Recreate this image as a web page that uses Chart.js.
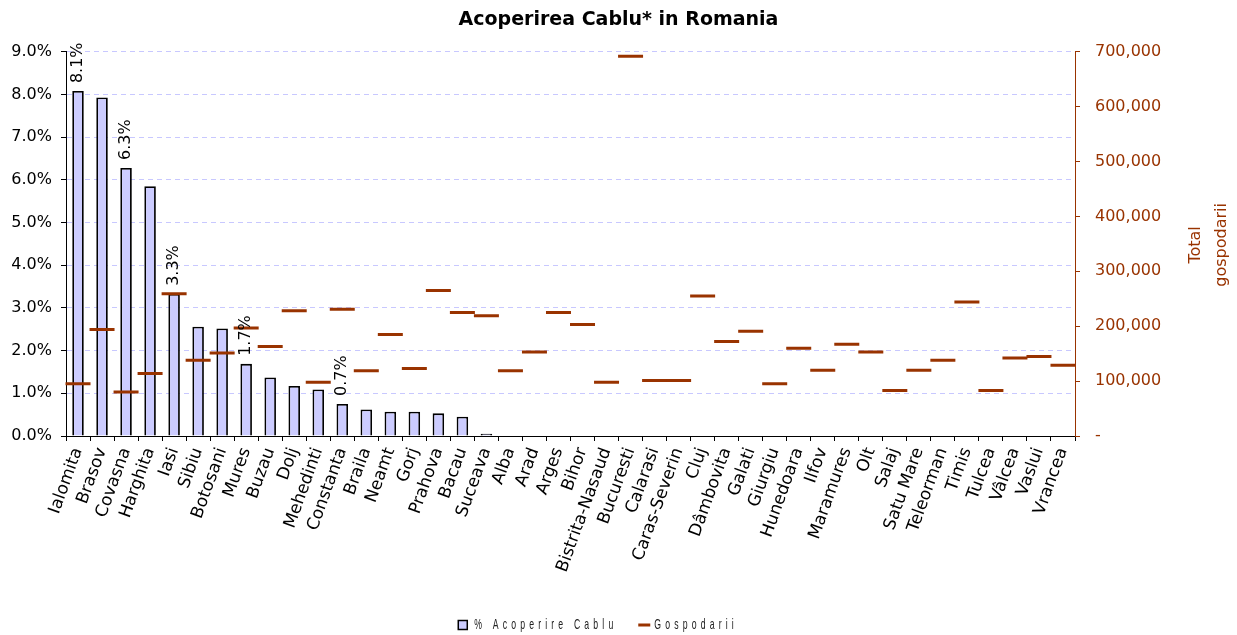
<!DOCTYPE html>
<html><head><meta charset="utf-8">
<script src="https://cdn.jsdelivr.net/npm/chart.js@4/dist/chart.umd.min.js"></script>
<style>html,body{margin:0;padding:0;background:#fff;}canvas{display:block;}</style>
</head><body>
<canvas id="c" width="1237" height="635"></canvas>
<script>
// ---- DATA ----
const categories = ['Ialomita','Brasov','Covasna','Harghita','Iasi','Sibiu','Botosani','Mures','Buzau','Dolj','Mehedinti','Constanta','Braila','Neamt','Gorj','Prahova','Bacau','Suceava','Alba','Arad','Arges','Bihor','Bistrita-Nasaud','Bucuresti','Calarasi','Caras-Severin','Cluj','Dâmbovita','Galati','Giurgiu','Hunedoara','Ilfov','Maramures','Olt','Salaj','Satu Mare','Teleorman','Timis','Tulcea','Vâlcea','Vaslui','Vrancea'];
const coveragePct = [8.08,7.93,6.28,5.85,3.33,2.56,2.52,1.69,1.37,1.17,1.09,0.75,0.62,0.57,0.57,0.53,0.45,0.05,0,0,0,0,0,0,0,0,0,0,0,0,0,0,0,0,0,0,0,0,0,0,0,0];
const coverageLabels = ['8.1%','','6.3%','','3.3%','','','1.7%','','','','0.7%','','','','','','','','','','','','','','','','','','','','','','','','','','','','','',''];
const households = [95000,194000,80000,114000,259000,138000,151000,197000,163000,228000,98000,231000,119000,185000,123000,265000,225000,219000,119000,153000,225000,203000,98000,692000,101000,101000,255000,172000,191000,95000,160000,120000,167000,153000,83000,120000,138000,244000,83000,142000,145000,129000];
const seriesNames = ['% Acoperire Cablu','Gospodarii'];
const pctAxisRange = [0, 9, 1];
const hhAxisRange = [0, 700000, 100000];
const chartTitle = 'Acoperirea Cablu* in Romania';
const rightAxisTitle = ['Total','gospodarii'];

// ---- STYLE ----
const FONT = "'DejaVu Sans', 'Liberation Sans', sans-serif";
const BROWN = '#993300';
const BARFILL = '#ccccff';

const barLabelPlugin = {
  id: 'barLabels',
  afterDatasetsDraw(chart) {
    const meta = chart.getDatasetMeta(1);
    const ctx = chart.ctx;
    ctx.save();
    ctx.font = '16px ' + FONT;
    ctx.fillStyle = '#000';
    ctx.textAlign = 'left';
    ctx.textBaseline = 'middle';
    meta.data.forEach((el, i) => {
      const t = coverageLabels[i];
      if (!t) return;
      ctx.save();
      ctx.translate(el.x, el.y - 8);
      ctx.rotate(-Math.PI / 2);
      ctx.fillText(t, 0, 0);
      ctx.restore();
    });
    ctx.restore();
  }
};

const rightTitlePlugin = {
  id: 'rightTitle',
  afterDraw(chart) {
    const ctx = chart.ctx;
    const s = chart.scales.y2;
    const cy = (chart.chartArea.top + chart.chartArea.bottom) / 2;
    ctx.save();
    ctx.font = '16px ' + FONT;
    ctx.fillStyle = BROWN;
    ctx.textAlign = 'center';
    ctx.textBaseline = 'middle';
    const xs = [s.right - 41, s.right - 15];
    rightAxisTitle.forEach((t, i) => {
      ctx.save();
      ctx.translate(xs[i], cy + 1);
      ctx.rotate(-Math.PI / 2);
      ctx.fillText(t, 0, 0);
      ctx.restore();
    });
    ctx.restore();
  }
};

function rawWidth(ctx, text, sx) {
  let w = 0;
  for (const ch of text) w += ctx.measureText(ch).width * sx;
  return w;
}
function drawSpaced(ctx, text, x, y, sp, sx) {
  for (const ch of text) {
    const cw = ctx.measureText(ch).width * sx;
    ctx.save();
    ctx.translate(x, y);
    ctx.scale(sx, 1);
    ctx.fillText(ch, 0, 0);
    ctx.restore();
    x += cw + sp;
  }
}

const legendPlugin = {
  id: 'customLegend',
  afterDraw(chart) {
    const ctx = chart.ctx;
    ctx.save();
    ctx.font = "15px 'Liberation Sans', 'DejaVu Sans', sans-serif";
    ctx.textBaseline = 'middle';
    ctx.textAlign = 'left';
    const sx = 0.58;
    const n1 = [...seriesNames[0]].length, n2 = [...seriesNames[1]].length;
    const sp = (139 - rawWidth(ctx, seriesNames[0], sx)) / (n1 - 1);
    const w1 = rawWidth(ctx, seriesNames[0], sx) + sp * (n1 - 1);
    const w2 = rawWidth(ctx, seriesNames[1], sx) + sp * (n2 - 1);
    const total = 10 + 6 + w1 + 25 + 12 + 4 + w2;
    let x = 596 - total / 2;
    const y = 625;
    ctx.fillStyle = BARFILL; ctx.strokeStyle = '#000'; ctx.lineWidth = 1.5;
    ctx.fillRect(x, y - 4.5, 9, 9); ctx.strokeRect(x, y - 4.5, 9, 9);
    x += 16;
    ctx.fillStyle = '#222';
    drawSpaced(ctx, seriesNames[0], x, y, sp, sx);
    x += w1 + 25;
    ctx.strokeStyle = BROWN; ctx.lineWidth = 3;
    ctx.beginPath(); ctx.moveTo(x, y); ctx.lineTo(x + 12, y); ctx.stroke();
    x += 16;
    ctx.fillStyle = '#222';
    drawSpaced(ctx, seriesNames[1], x, y, sp, sx);
    ctx.restore();
  }
};

new Chart(document.getElementById('c'), {
  type: 'bar',
  data: {
    labels: categories,
    datasets: [
      {
        type: 'line',
        label: seriesNames[1],
        data: households,
        yAxisID: 'y2',
        order: 0,
        showLine: false,
        pointStyle: 'line',
        pointRadius: 12.5,
        pointHoverRadius: 12.5,
        pointBorderWidth: 3,
        pointBorderColor: BROWN,
        pointBackgroundColor: BROWN,
        borderColor: BROWN,
        backgroundColor: BROWN
      },
      {
        type: 'bar',
        label: seriesNames[0],
        data: coveragePct,
        yAxisID: 'y',
        order: 1,
        backgroundColor: BARFILL,
        borderColor: '#000',
        borderWidth: 1.8,
        barPercentage: 0.48,
        categoryPercentage: 1.0
      }
    ]
  },
  options: {
    responsive: false,
    animation: false,
    devicePixelRatio: 1,
    layout: { padding: 0 },
    plugins: {
      legend: { display: false },
      tooltip: { enabled: false },
      title: {
        display: true,
        text: chartTitle,
        color: '#000',
        font: { family: FONT, size: 19, weight: 'bold' },
        padding: { top: 9, bottom: 20 }
      }
    },
    scales: {
      x: {
        offset: true,
        grid: { display: true, offset: true, drawOnChartArea: false, drawTicks: true, tickLength: 5, color: '#000' },
        border: { display: true, color: '#000', width: 1 },
        ticks: { autoSkip: false, minRotation: 70, maxRotation: 70, padding: 4, color: '#000', font: { family: FONT, size: 17 } },
        afterFit(s) { s.height = 199; }
      },
      y: {
        position: 'left',
        min: pctAxisRange[0], max: pctAxisRange[1],
        ticks: { stepSize: pctAxisRange[2], padding: 9, color: '#000', font: { family: FONT, size: 16 },
                 callback: v => Number(v).toFixed(1) + '%' },
        grid: { color: c => c.index === 0 ? 'rgba(0,0,0,0)' : '#c8c8ff', lineWidth: 1, tickColor: '#000', tickLength: 5, drawTicks: true },
        border: { display: true, color: '#000', width: 1, dash: [5, 4] },
        afterFit(s) { s.width = 66; }
      },
      y2: {
        position: 'right',
        min: hhAxisRange[0], max: hhAxisRange[1],
        ticks: { stepSize: hhAxisRange[2], padding: 15, color: BROWN, font: { family: FONT, size: 16 },
                 callback: v => v === 0 ? '-' : Number(v).toLocaleString('en-US') },
        grid: { drawOnChartArea: false, color: BROWN, tickLength: 5 },
        border: { display: true, color: BROWN, width: 1 },
        afterFit(s) { s.width = 162; }
      }
    }
  },
  plugins: [barLabelPlugin, rightTitlePlugin, legendPlugin]
});
</script>
</body></html>
